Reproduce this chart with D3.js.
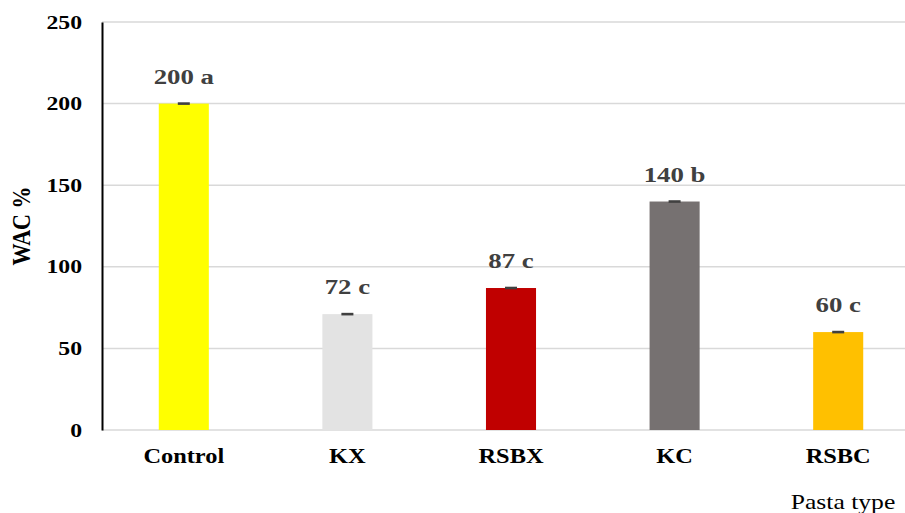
<!DOCTYPE html>
<html><head><meta charset="utf-8">
<script src="https://cdn.jsdelivr.net/npm/d3@7"></script>
<style>body{margin:0;background:#fff}svg{display:block}svg text{font-family:"Liberation Serif","Times New Roman",serif}</style>
</head><body><svg id="c" width="905" height="513"></svg>
<script>
const categories = ["Control","KX","RSBX","KC","RSBC"];
const values = [200, 71, 87, 140, 60];
const errors = [0.8, 0.8, 0.8, 0.8, 0.8];
const labels = ["200 a","72 c","87 c","140 b","60 c"];
const colors = ["#FFFF00","#E3E3E3","#C00000","#767171","#FFC000"];
const yTicks = [0,50,100,150,200,250];

const SX = 1.22;
const svg = d3.select("#c");
const x = d3.scaleBand().domain(categories).range([102, 920]).paddingInner(0.694).paddingOuter(0.347);
const y = d3.scaleLinear().domain([0,250]).range([430, 22]);

svg.append("g").selectAll("line").data(yTicks).join("line")
  .attr("x1",102).attr("x2",905).attr("y1",d=>y(d)).attr("y2",d=>y(d))
  .attr("stroke","#d9d9d9").attr("stroke-width",1.5);

svg.append("g").selectAll("rect").data(categories).join("rect")
  .attr("x",d=>x(d)).attr("width",x.bandwidth())
  .attr("y",(d,i)=>y(values[i])).attr("height",(d,i)=>y(0)-y(values[i]))
  .attr("fill",(d,i)=>colors[i]);

const eb = svg.append("g");
categories.forEach((c,i)=>{
  const cx = x(c)+x.bandwidth()/2;
  eb.append("rect").attr("x",cx-6).attr("width",12).attr("y",y(values[i]+errors[i])).attr("height",Math.max(2.5,y(values[i]-errors[i])-y(values[i]+errors[i]))).attr("fill","#404040");
});

svg.append("g").selectAll("text").data(categories).join("text")
  .attr("transform",(d,i)=>`translate(${x(d)+x.bandwidth()/2},${y(values[i])-20}) scale(${SX},1)`)
  .attr("text-anchor","middle").style("font-weight","bold")
  .style("font-size","22px").attr("fill","#404040").text((d,i)=>labels[i]);

const ya = svg.append("g").attr("transform","translate(102,0)")
  .call(d3.axisLeft(y).tickValues(yTicks).tickSize(0).tickPadding(20));
ya.attr("font-family",null);
ya.select(".domain").attr("stroke","#000").attr("stroke-width",2);
ya.selectAll("text").attr("x",-20/1.25).attr("transform","scale(1.25,1)")
  .style("font-weight","bold").style("font-size","19px").attr("fill","#000");

const xa = svg.append("g").attr("transform","translate(0,430)")
  .call(d3.axisBottom(x).tickSize(0).tickPadding(19));
xa.attr("font-family",null);
xa.select(".domain").remove();
xa.selectAll("text").attr("transform",`scale(${SX},1)`)
  .style("font-weight","bold").style("font-size","20px").attr("fill","#000");

svg.append("text").attr("transform","translate(30,226) rotate(-90) scale(1,1.15)").attr("text-anchor","middle")
  .style("font-weight","bold").style("font-size","22px").attr("fill","#000").text("WAC %");
svg.append("text").attr("transform",`translate(843,509) scale(${SX},1)`).attr("text-anchor","middle")
  .style("font-size","21px").attr("fill","#000").text("Pasta type");
</script></body></html>
